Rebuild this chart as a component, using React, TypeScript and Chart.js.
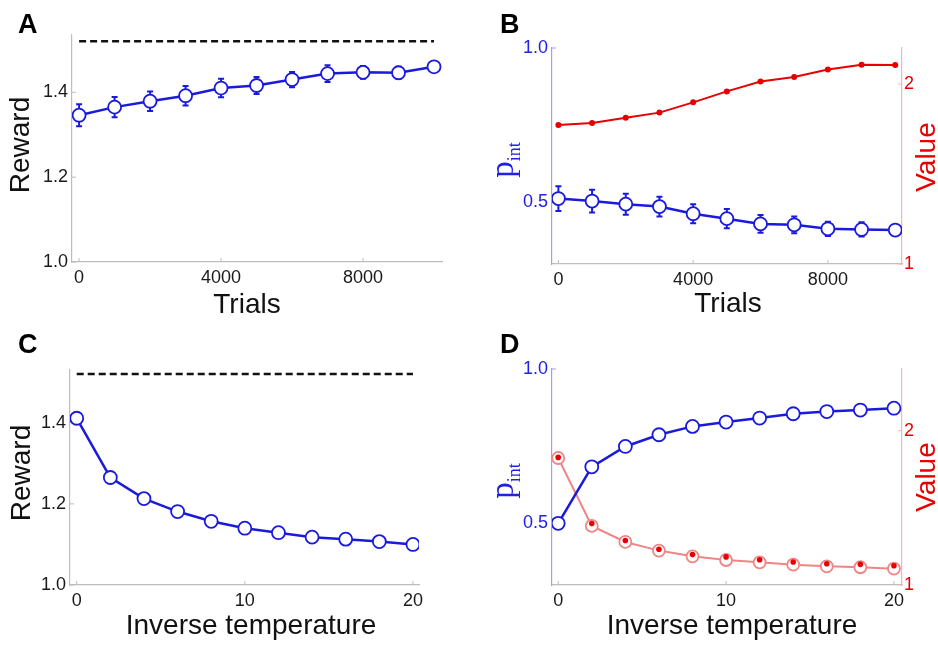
import React, { useEffect, useRef } from "react";
import { Chart, registerables } from "chart.js";

Chart.register(...registerables);

// ---------------- DATA ----------------
const trials = [0, 1000, 2000, 3000, 4000, 5000, 6000, 7000, 8000, 9000, 10000];
const rewardTrials = [1.346, 1.365, 1.379, 1.392, 1.41, 1.416, 1.43, 1.444, 1.447, 1.446, 1.46];
const rewardTrialsErr = [0.026, 0.024, 0.023, 0.023, 0.022, 0.02, 0.018, 0.02, 0.015, 0.014, 0.008];
const optimalReward = 1.52;
const pintTrials = [0.512, 0.504, 0.494, 0.486, 0.463, 0.447, 0.43, 0.427, 0.414, 0.412, 0.41];
const pintTrialsErr = [0.04, 0.037, 0.034, 0.032, 0.031, 0.031, 0.029, 0.027, 0.023, 0.023, 0.015];
const valueTrials = [1.772, 1.783, 1.813, 1.841, 1.898, 1.959, 2.014, 2.039, 2.081, 2.107, 2.106];

const invTemp = [0, 2, 4, 6, 8, 10, 12, 14, 16, 18, 20];
const rewardTemp = [1.411, 1.265, 1.213, 1.181, 1.157, 1.14, 1.129, 1.118, 1.113, 1.107, 1.1];
const pintTemp = [0.5, 0.683, 0.749, 0.787, 0.814, 0.828, 0.841, 0.855, 0.862, 0.867, 0.873];
const valueTempCircle = [1.823, 1.383, 1.279, 1.223, 1.186, 1.162, 1.147, 1.132, 1.121, 1.115, 1.106];
const valueTempDot = [1.827, 1.398, 1.288, 1.232, 1.197, 1.182, 1.164, 1.149, 1.138, 1.134, 1.125];

const trialTicks = [0, 4000, 8000];
const tempTicks = [0, 10, 20];
const rewardTicks = [1.0, 1.2, 1.4];
const pintTicks = [0.5, 1.0];
const valueTicks = [1, 2];

// ---------------- STYLE ----------------
const SANS = '"Liberation Sans", Arial, Helvetica, sans-serif';
const SERIF = '"Liberation Serif", "DejaVu Serif", serif';
const BLUE = "#1a1adc";
const BLUE_TXT = "#2020e6";
const RED = "#e80000";
const LIGHT_RED = "#f08585";
const AXIS_GRAY = "#bdbdbd";
const AXIS_BLUE = "#a0a0f2";
const AXIS_RED = "#f7b4b4";
const TICK_TXT = "#1a1a1a";

const pts = (xs: number[], ys: number[]) => xs.map((x, i) => ({ x, y: ys[i] }));

// ---------------- PLUGINS ----------------
const errorBarPlugin = {
  id: "errorBars",
  beforeDatasetsDraw(chart: any, _a: any, opts: any) {
    if (!opts || !opts.errors) return;
    const meta = chart.getDatasetMeta(opts.datasetIndex);
    const ds = chart.data.datasets[opts.datasetIndex];
    const ys = chart.scales[meta.yAxisID];
    const ctx = chart.ctx;
    ctx.save();
    ctx.strokeStyle = opts.color;
    ctx.lineWidth = 2;
    meta.data.forEach((pt: any, i: number) => {
      const v = ds.data[i].y;
      const e = opts.errors[i];
      const y1 = ys.getPixelForValue(v + e);
      const y2 = ys.getPixelForValue(v - e);
      const x = pt.x;
      ctx.beginPath();
      ctx.moveTo(x, y1);
      ctx.lineTo(x, y2);
      ctx.moveTo(x - 3, y1);
      ctx.lineTo(x + 3, y1);
      ctx.moveTo(x - 3, y2);
      ctx.lineTo(x + 3, y2);
      ctx.stroke();
    });
    ctx.restore();
  },
};

const innerTicksPlugin = {
  id: "innerTicks",
  beforeDatasetsDraw(chart: any) {
    const ctx = chart.ctx;
    Object.values(chart.scales).forEach((s: any) => {
      const len = 4;
      ctx.save();
      ctx.strokeStyle = s.options.border.color;
      ctx.lineWidth = 1;
      s.ticks.forEach((t: any) => {
        const p = s.getPixelForValue(t.value);
        ctx.beginPath();
        if (s.isHorizontal()) {
          ctx.moveTo(p, s.top);
          ctx.lineTo(p, s.top - len);
        } else if (s.position === "left") {
          ctx.moveTo(s.right, p);
          ctx.lineTo(s.right + len, p);
        } else {
          ctx.moveTo(s.left, p);
          ctx.lineTo(s.left - len, p);
        }
        ctx.stroke();
      });
      ctx.restore();
    });
  },
};

type Part = { text: string; font: string; dy: number };
type TextItem = {
  text?: string;
  parts?: Part[];
  x: number;
  y: number;
  font?: string;
  color: string;
  rotate?: boolean;
  align?: CanvasTextAlign;
  baseline?: CanvasTextBaseline;
};

const panelTextPlugin = {
  id: "panelText",
  afterDraw(chart: any, _a: any, opts: any) {
    const items: TextItem[] = (opts && opts.items) || [];
    const ctx = chart.ctx;
    items.forEach((it) => {
      ctx.save();
      ctx.translate(it.x, it.y);
      if (it.rotate) ctx.rotate(-Math.PI / 2);
      ctx.fillStyle = it.color;
      if (it.parts) {
        ctx.textBaseline = "alphabetic";
        ctx.textAlign = "left";
        let total = 0;
        const widths = it.parts.map((p) => {
          ctx.font = p.font;
          const w = ctx.measureText(p.text).width;
          total += w;
          return w;
        });
        let cx = -total / 2;
        it.parts.forEach((p, i) => {
          ctx.font = p.font;
          ctx.fillText(p.text, cx, p.dy);
          cx += widths[i];
        });
      } else {
        ctx.font = it.font;
        ctx.textAlign = it.align || "center";
        ctx.textBaseline = it.baseline || "middle";
        ctx.fillText(it.text, 0, 0);
      }
      ctx.restore();
    });
  },
};

// ---------------- HELPERS ----------------
const tickFont = { family: SANS, size: 18 };
const titleFont = `28px ${SANS}`;
const letterFont = `bold 27px ${SANS}`;

function xAxis(min: number, max: number, tickVals: number[], height: number) {
  return {
    type: "linear",
    position: "bottom",
    min,
    max,
    grid: { display: false, drawTicks: false },
    border: { display: true, color: AXIS_GRAY, width: 1.2 },
    ticks: { padding: 5, font: tickFont, color: TICK_TXT, callback: (v: any) => String(v) },
    afterBuildTicks: (s: any) => {
      s.ticks = tickVals.map((value) => ({ value }));
    },
    afterFit: (s: any) => {
      s.height = height;
    },
  };
}

function yAxis(
  position: string,
  min: number,
  max: number,
  tickVals: number[],
  width: number,
  color: string,
  borderColor: string,
  digits: number,
  padding: number
) {
  return {
    type: "linear",
    position,
    min,
    max,
    grid: { display: false, drawTicks: false, drawOnChartArea: false },
    border: { display: true, color: borderColor, width: 1.2 },
    ticks: { padding, font: tickFont, color, callback: (v: any) => Number(v).toFixed(digits) },
    afterBuildTicks: (s: any) => {
      s.ticks = tickVals.map((value) => ({ value }));
    },
    afterFit: (s: any) => {
      s.width = width;
    },
  };
}

const baseOptions = (padding: any, scales: any, plugins: any) => ({
  responsive: false,
  animation: false,
  events: [],
  layout: { padding },
  scales,
  plugins: {
    legend: { display: false },
    tooltip: { enabled: false },
    ...plugins,
  },
});

const hollowBlue = (data: any, yAxisID = "y") => ({
  data,
  yAxisID,
  order: 1,
  borderColor: BLUE,
  borderWidth: 2.5,
  pointRadius: 6.5,
  pointBackgroundColor: "#ffffff",
  pointBorderColor: BLUE,
  pointBorderWidth: 1.8,
  tension: 0,
});

const dashedOptimal = (xs: number[]) => ({
  data: [
    { x: xs[0], y: optimalReward },
    { x: xs[xs.length - 1], y: optimalReward },
  ],
  order: 2,
  borderColor: "#111111",
  borderWidth: 2.5,
  borderDash: [7, 4],
  pointRadius: 0,
});

const pintTitle = (x: number, y: number): TextItem => ({
  x,
  y,
  color: BLUE_TXT,
  rotate: true,
  parts: [
    { text: "p", font: `33px ${SERIF}`, dy: 0 },
    { text: "int", font: `18px ${SERIF}`, dy: 7 },
  ],
});

// ---------------- PANELS ----------------
function configA(): any {
  return {
    type: "line",
    data: { datasets: [hollowBlue(pts(trials, rewardTrials)), dashedOptimal(trials)] },
    plugins: [errorBarPlugin, innerTicksPlugin, panelTextPlugin],
    options: baseOptions(
      { top: 35, right: 27, left: 0, bottom: 0 },
      {
        x: xAxis(-200, 10225, trialTicks, 60),
        y: yAxis("left", 1.0, 1.535, rewardTicks, 72, TICK_TXT, AXIS_GRAY, 1, 4),
      },
      {
        errorBars: { datasetIndex: 0, errors: rewardTrialsErr, color: BLUE },
        panelText: {
          items: [
            { text: "A", x: 18, y: 33, font: letterFont, color: "#000", align: "left", baseline: "alphabetic" },
            { text: "Reward", x: 21, y: 145, font: titleFont, color: "#111", rotate: true },
            { text: "Trials", x: 247, y: 305, font: titleFont, color: "#111" },
          ],
        },
      }
    ),
  };
}

function configB(): any {
  return {
    type: "line",
    data: {
      datasets: [
        hollowBlue(pts(trials, pintTrials)),
        {
          data: pts(trials, valueTrials),
          yAxisID: "y1",
          order: 2,
          borderColor: RED,
          borderWidth: 2,
          pointRadius: 3,
          pointBackgroundColor: RED,
          pointBorderColor: RED,
          pointBorderWidth: 0,
        },
      ],
    },
    plugins: [errorBarPlugin, innerTicksPlugin, panelTextPlugin],
    options: baseOptions(
      { top: 48, right: 0, left: 0, bottom: 0 },
      {
        x: xAxis(-190, 10200, trialTicks, 58),
        y: yAxis("left", 0.3, 1.0, pintTicks, 83, BLUE_TXT, AXIS_BLUE, 1, 4),
        y1: yAxis("right", 1, 2.2, valueTicks, 36, RED, AXIS_RED, 0, 2),
      },
      {
        errorBars: { datasetIndex: 0, errors: pintTrialsErr, color: BLUE },
        panelText: {
          items: [
            { text: "B", x: 31, y: 33, font: letterFont, color: "#000", align: "left", baseline: "alphabetic" },
            pintTitle(44, 160),
            { text: "Value", x: 458, y: 157, font: titleFont, color: RED, rotate: true },
            { text: "Trials", x: 259, y: 304, font: titleFont, color: "#111" },
          ],
        },
      }
    ),
  };
}

function configC(): any {
  return {
    type: "line",
    data: { datasets: [hollowBlue(pts(invTemp, rewardTemp)), dashedOptimal(invTemp)] },
    plugins: [innerTicksPlugin, panelTextPlugin],
    options: baseOptions(
      { top: 48, right: 50, left: 0, bottom: 0 },
      {
        x: xAxis(-0.4, 20.36, tempTicks, 60),
        y: yAxis("left", 1.0, 1.53, rewardTicks, 70, TICK_TXT, AXIS_GRAY, 1, 4),
      },
      {
        panelText: {
          items: [
            { text: "C", x: 18, y: 31, font: letterFont, color: "#000", align: "left", baseline: "alphabetic" },
            { text: "Reward", x: 22, y: 151, font: titleFont, color: "#111", rotate: true },
            { text: "Inverse temperature", x: 251, y: 304, font: titleFont, color: "#111" },
          ],
        },
      }
    ),
  };
}

function configD(): any {
  return {
    type: "line",
    data: {
      datasets: [
        hollowBlue(pts(invTemp, pintTemp)),
        {
          data: pts(invTemp, valueTempCircle),
          yAxisID: "y1",
          order: 3,
          borderColor: LIGHT_RED,
          borderWidth: 2,
          pointRadius: 6,
          pointBackgroundColor: "#ffffff",
          pointBorderColor: LIGHT_RED,
          pointBorderWidth: 1.8,
        },
        {
          data: pts(invTemp, valueTempDot),
          yAxisID: "y1",
          order: 2,
          showLine: false,
          pointRadius: 2.8,
          pointBackgroundColor: RED,
          pointBorderColor: RED,
          pointBorderWidth: 0,
        },
      ],
    },
    plugins: [innerTicksPlugin, panelTextPlugin],
    options: baseOptions(
      { top: 47, right: 0, left: 0, bottom: 0 },
      {
        x: xAxis(-0.37, 20.48, tempTicks, 60),
        y: yAxis("left", 0.3, 1.0, pintTicks, 83, BLUE_TXT, AXIS_BLUE, 1, 4),
        y1: yAxis("right", 1, 2.4, valueTicks, 36, RED, AXIS_RED, 0, 2),
      },
      {
        panelText: {
          items: [
            { text: "D", x: 31, y: 31, font: letterFont, color: "#000", align: "left", baseline: "alphabetic" },
            pintTitle(44, 159),
            { text: "Value", x: 458, y: 155, font: titleFont, color: RED, rotate: true },
            { text: "Inverse temperature", x: 263, y: 304, font: titleFont, color: "#111" },
          ],
        },
      }
    ),
  };
}

function Panel(props: { left: number; top: number; width: number; height: number; make: () => any }) {
  const ref = useRef<HTMLCanvasElement | null>(null);
  useEffect(() => {
    if (!ref.current) return;
    const chart = new Chart(ref.current, props.make());
    return () => chart.destroy();
  }, []);
  return (
    <div style={{ position: "absolute", left: props.left, top: props.top, width: props.width, height: props.height }}>
      <canvas ref={ref} width={props.width} height={props.height} style={{ display: "block" }} />
    </div>
  );
}

export default function App() {
  return (
    <div style={{ position: "absolute", left: 0, top: 0, width: 938, height: 645, background: "#fff", overflow: "hidden" }}>
      <Panel left={0} top={0} width={469} height={322} make={configA} />
      <Panel left={469} top={0} width={469} height={322} make={configB} />
      <Panel left={0} top={322} width={469} height={323} make={configC} />
      <Panel left={469} top={322} width={469} height={323} make={configD} />
    </div>
  );
}
